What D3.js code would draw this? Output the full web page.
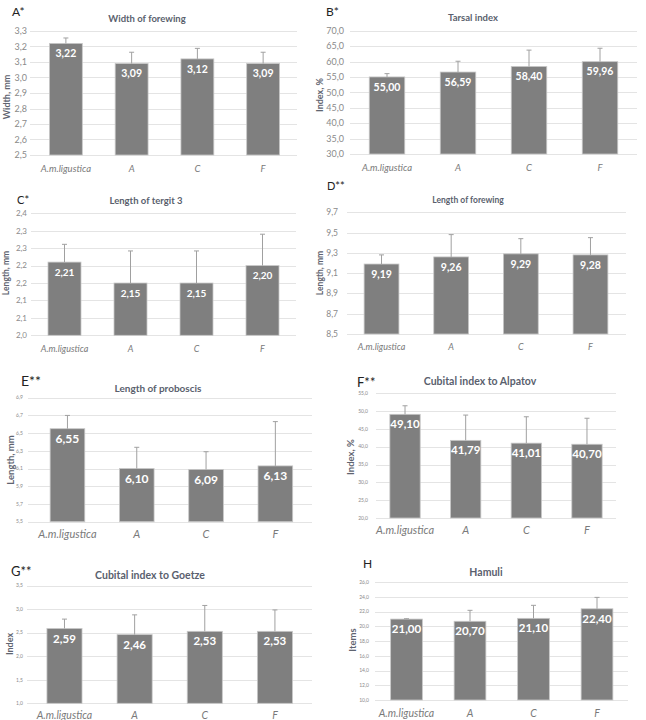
<!DOCTYPE html>
<html><head><meta charset="utf-8">
<script src="https://cdn.jsdelivr.net/npm/d3@7/dist/d3.min.js"></script>
<style>body{margin:0;background:#fff}svg{display:block}text{font-family:Lato,"Open Sans",sans-serif}</style>
</head><body><svg id="c" width="646" height="720"></svg>
<script>
// ---- data ----
const categories = ["A.m.ligustica", "A", "C", "F"];

const widthForewing = [3.22, 3.09, 3.12, 3.09];
const widthForewingSD = [0.035, 0.073, 0.068, 0.073];
const widthForewingTicks = [2.5, 2.6, 2.7, 2.8, 2.9, 3.0, 3.1, 3.2, 3.3];
const widthForewingTickLabels = ["2,5","2,6","2,7","2,8","2,9","3,0","3,1","3,2","3,3"];

const tarsalIndex = [55.00, 56.59, 58.40, 59.96];
const tarsalIndexSD = [1.07, 3.5, 5.3, 4.35];
const tarsalTicks = [30, 35, 40, 45, 50, 55, 60, 65, 70];
const tarsalTickLabels = ["30,0","35,0","40,0","45,0","50,0","55,0","60,0","65,0","70,0"];

const tergit3 = [2.21, 2.15, 2.15, 2.20];
const tergit3SD = [0.051, 0.092, 0.092, 0.09];
const tergit3Ticks = [2.0, 2.05, 2.1, 2.15, 2.2, 2.25, 2.3, 2.35];
const tergit3TickLabels = ["2,0","2,1","2,1","2,2","2,2","2,3","2,3","2,4"];

const lengthForewing = [9.19, 9.26, 9.29, 9.28];
const lengthForewingSD = [0.09, 0.22, 0.15, 0.17];
const lengthForewingTicks = [8.5, 8.7, 8.9, 9.1, 9.3, 9.5, 9.7];
const lengthForewingTickLabels = ["8,5","8,7","8,9","9,1","9,3","9,5","9,7"];

const proboscis = [6.55, 6.10, 6.09, 6.13];
const proboscisSD = [0.15, 0.24, 0.2, 0.5];
const proboscisTicks = [5.5, 5.7, 5.9, 6.1, 6.3, 6.5, 6.7, 6.9];
const proboscisTickLabels = ["5,5","5,7","5,9","6,1","6,3","6,5","6,7","6,9"];

const alpatov = [49.10, 41.79, 41.01, 40.70];
const alpatovSD = [2.4, 7.1, 7.4, 7.3];
const alpatovTicks = [20, 25, 30, 35, 40, 45, 50, 55];
const alpatovTickLabels = ["20,0","25,0","30,0","35,0","40,0","45,0","50,0","55,0"];

const goetze = [2.59, 2.46, 2.53, 2.53];
const goetzeSD = [0.2, 0.42, 0.55, 0.455];
const goetzeTicks = [1.0, 1.5, 2.0, 2.5, 3.0, 3.5];
const goetzeTickLabels = ["1,0","1,5","2,0","2,5","3,0","3,5"];

const hamuli = [21.00, 20.70, 21.10, 22.40];
const hamuliSD = [0.05, 1.49, 1.77, 1.55];
const hamuliTicks = [10, 12, 14, 16, 18, 20, 22, 24, 26];
const hamuliTickLabels = ["10,0","12,0","14,0","16,0","18,0","20,0","22,0","24,0","26,0"];

const fmt2 = v => v.toFixed(2).replace(".", ",");

// ---- layout ----
const panels = [
  {letter:"A*", title:"Width of forewing", ylab:"Width, mm", vals:widthForewing, sd:widthForewingSD, ticks:widthForewingTicks, tl:widthForewingTickLabels,
   L:[12,12,12], T:[147,19,9.5], x:[33,296], gx:[30,297], y:[155,31], tx:27, tfs:9, yl:[7,97,9], cy:172, cfs:9.5, vfs:10.5},
  {letter:"B*", title:"Tarsal index", ylab:"Index, %", vals:tarsalIndex, sd:tarsalIndexSD, ticks:tarsalTicks, tl:tarsalTickLabels,
   L:[326,12,12], T:[473,18,9.5], x:[351.5,635.5], gx:[350,637], y:[154,30.7], tx:344, tfs:9, yl:[320,95,9], cy:171, cfs:9.5, vfs:10.5},
  {letter:"C*", title:"Length of tergit 3", ylab:"Length, mm", vals:tergit3, sd:tergit3SD, ticks:tergit3Ticks, tl:tergit3TickLabels,
   L:[17,200,11], T:[146,201,9.5], x:[31.5,295.5], gx:[31,296], y:[335.3,213.3], tx:27, tfs:8, yl:[6,273,8.5], cy:352, cfs:9, vfs:10},
  {letter:"D**", title:"Length of forewing", ylab:"Length, mm", vals:lengthForewing, sd:lengthForewingSD, ticks:lengthForewingTicks, tl:lengthForewingTickLabels,
   L:[327,186,11], T:[468,200,8.5], x:[346.7,625.3], gx:[347,626], y:[334,212.3], tx:338, tfs:8.5, yl:[320,273,8.5], cy:350, cfs:9, vfs:10.5},
  {letter:"E**", title:"Length of proboscis", ylab:"Length, mm", vals:proboscis, sd:proboscisSD, ticks:proboscisTicks, tl:proboscisTickLabels,
   L:[21,381,14], T:[158,388,10], x:[32.8,310], gx:[28,312], y:[521.7,397.7], tx:23, tfs:5, yl:[11,460,9.5], cy:538, cfs:11, vfs:12},
  {letter:"F**", title:"Cubital index to Alpatov", ylab:"Index, %", vals:alpatov, sd:alpatovSD, ticks:alpatovTicks, tl:alpatovTickLabels,
   L:[357,382,13], T:[480,381,10.5], x:[374.7,617.3], gx:[376,616], y:[518,393.3], tx:368, tfs:5, yl:[350.5,457,9.5], cy:534, cfs:11, vfs:11.5},
  {letter:"G**", title:"Cubital index to Goetze", ylab:"Index", vals:goetze, sd:goetzeSD, ticks:goetzeTicks, tl:goetzeTickLabels,
   L:[11,571,13], T:[150,575,10.5], x:[29.4,310], gx:[27,312], y:[703.3,585.7], tx:23, tfs:5, yl:[9.5,644,9], cy:718.5, cfs:10.5, vfs:11.5},
  {letter:"H", title:"Hamuli", ylab:"Items", vals:hamuli, sd:hamuliSD, ticks:hamuliTicks, tl:hamuliTickLabels,
   L:[363,564,12], T:[486,572,10.5], x:[374.75,628.75], gx:[375,628], y:[700,582.3], tx:369, tfs:5, yl:[352.5,640,9.5], cy:716.5, cfs:10.5, vfs:11.5}
];

const svg = d3.select("#c");

panels.forEach(p => {
  const g = svg.append("g");
  const xs = d3.scaleBand().domain(categories).range(p.x).paddingInner(0.5).paddingOuter(0.25);
  const ys = d3.scaleLinear().domain([p.ticks[0], p.ticks[p.ticks.length-1]]).range(p.y);

  // gridlines
  g.selectAll("line.grid").data(p.ticks).join("line")
    .attr("x1", p.gx[0]).attr("x2", p.gx[1])
    .attr("y1", d => Math.round(ys(d)) + 0.5).attr("y2", d => Math.round(ys(d)) + 0.5)
    .attr("stroke", "#e4e4e4").attr("stroke-width", 1);

  // tick labels
  g.selectAll("text.tick").data(p.ticks).join("text")
    .attr("x", p.tx).attr("y", d => ys(d)).attr("dy", "0.35em")
    .attr("text-anchor", "end").attr("font-size", p.tfs).attr("fill", "#8a8a8a")
    .text((d, i) => p.tl[i]);

  // bars
  g.selectAll("rect").data(p.vals).join("rect")
    .attr("x", (d, i) => xs(categories[i])).attr("width", xs.bandwidth())
    .attr("y", d => ys(d)).attr("height", d => ys(p.ticks[0]) - ys(d))
    .attr("fill", "#7f7f7f").attr("stroke", "#c8c8c8").attr("stroke-width", 0.8);

  // error bars
  const eb = g.selectAll("g.eb").data(p.vals).join("g");
  eb.append("line")
    .attr("x1", (d, i) => xs(categories[i]) + xs.bandwidth()/2).attr("x2", (d, i) => xs(categories[i]) + xs.bandwidth()/2)
    .attr("y1", d => ys(d)).attr("y2", (d, i) => ys(d + p.sd[i]))
    .attr("stroke", "#a0a0a0").attr("stroke-width", 1);
  eb.append("line")
    .attr("x1", (d, i) => xs(categories[i]) + xs.bandwidth()/2 - 2.5).attr("x2", (d, i) => xs(categories[i]) + xs.bandwidth()/2 + 2.5)
    .attr("y1", (d, i) => ys(d + p.sd[i])).attr("y2", (d, i) => ys(d + p.sd[i]))
    .attr("stroke", "#a0a0a0").attr("stroke-width", 1);

  // value labels
  g.selectAll("text.val").data(p.vals).join("text")
    .attr("x", (d, i) => xs(categories[i]) + xs.bandwidth()/2).attr("y", d => ys(d) + 10).attr("dy", "0.35em")
    .attr("text-anchor", "middle").attr("font-size", p.vfs).attr("font-weight", "bold").attr("fill", "#ffffff")
    .text(d => fmt2(d));

  // category labels
  g.selectAll("text.cat").data(categories).join("text")
    .attr("x", d => xs(d) + xs.bandwidth()/2).attr("y", p.cy)
    .attr("text-anchor", "middle").attr("font-size", p.cfs).attr("font-style", "italic").attr("fill", "#7a7a7a")
    .text(d => d);

  // title
  g.append("text").attr("x", p.T[0]).attr("y", p.T[1]).attr("dy", "0.35em")
    .attr("text-anchor", "middle").attr("font-size", p.T[2]).attr("font-weight", "bold").attr("fill", "#5a5f6e")
    .text(p.title);

  // y label
  g.append("text").attr("transform", `translate(${p.yl[0]},${p.yl[1]}) rotate(-90)`).attr("dy", "0.35em")
    .attr("text-anchor", "middle").attr("font-size", p.yl[2]).attr("font-weight", "bold").attr("fill", "#5f6470")
    .text(p.ylab);

  // panel letter
  g.append("text").attr("x", p.L[0]).attr("y", p.L[1]).attr("dy", "0.35em")
    .attr("font-size", p.L[2]).attr("fill", "#222")
    .text(p.letter);
});
</script></body></html>
